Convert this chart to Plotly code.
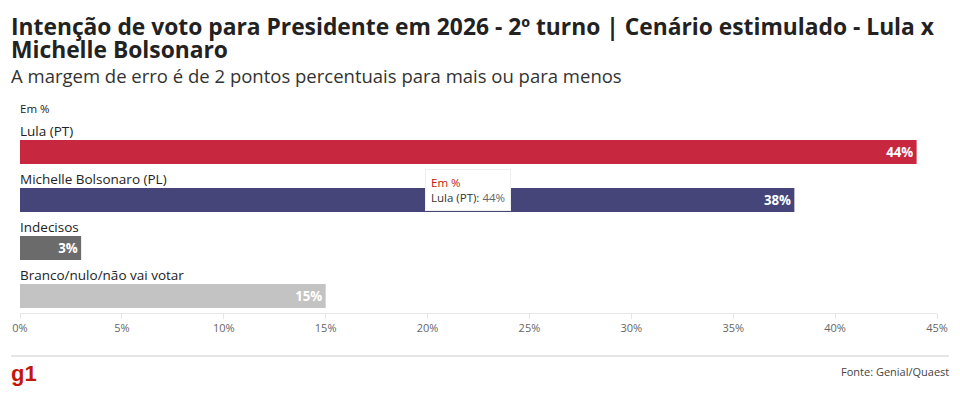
import plotly.graph_objects as go

categories = ["Lula (PT)", "Michelle Bolsonaro (PL)", "Indecisos", "Branco/nulo/não vai votar"]
values = [44, 38, 3, 15]
colors = ["#c8283f", "#45457a", "#6b6b6b", "#c3c3c3"]
tick_vals = [0, 5, 10, 15, 20, 25, 30, 35, 40, 45]
tick_text = [f"{v}%" for v in tick_vals]

title_line1 = "Intenção de voto para Presidente em 2026 - 2º turno | Cenário estimulado - Lula x"
title_line2 = "Michelle Bolsonaro"
subtitle = "A margem de erro é de 2 pontos percentuais para mais ou para menos"
unit = "Em %"
source = "Fonte: Genial/Quaest"

W, H = 960, 397
L, R, T, B = 19, 22, 110, 84
FONT = "Open Sans"
pw = W - L - R
ph = H - T - B


def px(x):
    return (x - L) / pw


def py(y):
    return (H - y - B) / ph


idx = list(range(len(categories)))

fig = go.Figure()
fig.add_trace(go.Bar(
    x=values, y=idx, orientation="h",
    marker=dict(color=colors, line=dict(width=0)),
    width=0.5,
    text=[f"{v}%" for v in values],
    textposition="inside", insidetextanchor="end",
    textfont=dict(family=FONT, size=14, color="white", weight="bold"),
    cliponaxis=False, hoverinfo="skip",
))

ann = []
for i, c in zip(idx, categories):
    ann.append(dict(x=0, y=i - 0.25, xref="x", yref="y", text=c, showarrow=False,
                    xanchor="left", yanchor="bottom", yshift=-2, xshift=-2,
                    font=dict(family=FONT, size=13.5, color="#222")))

ann += [
    dict(x=px(8), y=py(27), xref="paper", yref="paper", text=title_line1, showarrow=False,
         xanchor="left", yanchor="middle", font=dict(family=FONT, size=22.8, color="#222", weight="bold")),
    dict(x=px(8), y=py(50), xref="paper", yref="paper", text=title_line2, showarrow=False,
         xanchor="left", yanchor="middle", font=dict(family=FONT, size=22.8, color="#222", weight="bold")),
    dict(x=px(8), y=py(75), xref="paper", yref="paper", text=subtitle, showarrow=False,
         xanchor="left", yanchor="middle", font=dict(family=FONT, size=18.5, color="#333")),
    dict(x=px(17), y=py(108), xref="paper", yref="paper", text=unit, showarrow=False,
         xanchor="left", yanchor="middle", font=dict(family=FONT, size=11.5, color="#222")),
    dict(x=px(8), y=py(373), xref="paper", yref="paper", text="g1", showarrow=False,
         xanchor="left", yanchor="middle", font=dict(family="Liberation Sans", size=22, color="#c4170c", weight="bold")),
    dict(x=px(952), y=py(371), xref="paper", yref="paper", text=source, showarrow=False,
         xanchor="right", yanchor="middle", font=dict(family=FONT, size=11, color="#444")),
]

# tooltip (hover state shown in reference)
ann.append(dict(
    x=values[0] / 2, y=0.25, xref="x", yref="y",
    text="<span style='color:#c4170c'>Em %</span><br>Lula (PT): <span style='color:#666'>44%</span>",
    showarrow=True, arrowhead=0, arrowwidth=0.1, arrowcolor="white", ax=0, ay=26,
    xanchor="center", align="left", bgcolor="white", bordercolor="#eeeeee", borderwidth=1, borderpad=5,
    font=dict(family=FONT, size=11.5, color="#333"),
))

fig.update_layout(
    width=W, height=H,
    margin=dict(l=L, r=R, t=T, b=B),
    paper_bgcolor="white", plot_bgcolor="white",
    showlegend=False,
    annotations=ann,
    xaxis=dict(range=[0, 45], tickvals=tick_vals, ticktext=tick_text, showgrid=False,
               zeroline=False, showline=True, linecolor="#e6e6e6", linewidth=1,
               ticks="outside", ticklen=5, tickcolor="#e6e6e6",
               tickfont=dict(family=FONT, size=11, color="#666"),
               fixedrange=True),
    yaxis=dict(range=[3.354, -0.875], showticklabels=False, showgrid=False, zeroline=False,
               showline=False, fixedrange=True),
    shapes=[dict(type="line", xref="paper", yref="paper", x0=px(10), x1=px(950),
                 y0=py(356), y1=py(356), line=dict(color="#cccccc", width=1))],
)

fig.write_html("out.html", config={"displayModeBar": False},
               post_script="document.body.style.margin='0';document.body.style.overflow='hidden';")
